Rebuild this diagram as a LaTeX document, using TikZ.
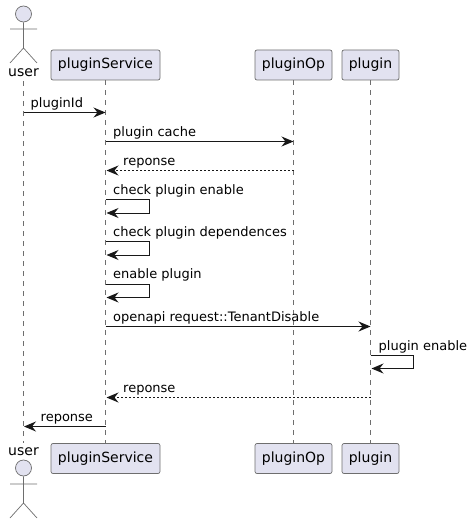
\documentclass[tikz,border=0pt]{standalone}
\usepackage{fontspec}
\setmainfont{DejaVu Sans}
\usetikzlibrary{arrows.meta}
\definecolor{boxfill}{HTML}{E2E2F0}
\definecolor{ink}{HTML}{181818}
\definecolor{thin}{HTML}{6E6E6E}
\tikzset{
  part/.style={rectangle,rounded corners=2pt,draw=thin,fill=boxfill,line width=.7pt,minimum height=30pt,inner sep=0pt,font=\fontsize{14}{16}\selectfont,text=black},
  who/.style={font=\fontsize{14}{16}\selectfont,inner sep=0pt,text=black},
  life/.style={draw=thin,line width=.6pt,dash pattern=on 5pt off 5pt},
  limb/.style={draw=thin,line width=.7pt},
  head/.style={circle,draw=thin,fill=boxfill,line width=.7pt,minimum size=16pt,inner sep=0pt},
  msg/.style={-{Stealth[length=12pt,width=10pt,inset=4pt]},draw=ink,line width=1pt},
  ret/.style={msg,dash pattern=on 2pt off 2pt},
  lb/.style={font=\fontsize{13}{15}\selectfont,anchor=base west,inner sep=0pt,text=black},
}
\begin{document}
\begin{tikzpicture}[x=1pt,y=-1pt]
\useasboundingbox (0,0) rectangle (472,524);
% top row
\node[head] (uheadT) at (23.5,14) {};
\coordinate (uhipT) at (23.5,48);
\coordinate (uarmlT) at (10,29);
\coordinate (uarmrT) at (37,29);
\coordinate (ulegbT) at (10,63);
\coordinate (ulegcT) at (37,63);
\draw[limb] (uheadT)--(uhipT) (uarmlT)--(uarmrT) (ulegbT)--(uhipT)--(ulegcT);
\node[who] (userT) at (23.5,73) {user};
\node[part,minimum width=109pt] (svcT) at (105.5,65) {pluginService};
\node[part,minimum width=77pt] (opT) at (293.5,65) {pluginOp};
\node[part,minimum width=57pt] (plgT) at (370.5,65) {plugin};
% bottom row
\node[head] (uheadB) at (23.5,468) {};
\coordinate (uhipB) at (23.5,503);
\coordinate (uarmlB) at (10,484);
\coordinate (uarmrB) at (37,484);
\coordinate (ulegbB) at (10,518);
\coordinate (ulegcB) at (37,518);
\draw[limb] (uheadB)--(uhipB) (uarmlB)--(uarmrB) (ulegbB)--(uhipB)--(ulegcB);
\node[who] (userB) at (23.5,452) {user};
\node[part,minimum width=109pt] (svcB) at (105.5,458.5) {pluginService};
\node[part,minimum width=77pt] (opB) at (293.5,458.5) {pluginOp};
\node[part,minimum width=57pt] (plgB) at (370.5,458.5) {plugin};
% lifelines
\coordinate (utop) at (23.5,81);
\coordinate (ubot) at (23.5,443);
\draw[life] (utop)--(ubot);
\draw[life] (svcT.south)--(svcB.north);
\draw[life] (opT.south)--(opB.north);
\draw[life] (plgT.south)--(plgB.north);
% messages
\coordinate (m1a) at (23.5,112.5); \coordinate (m1b) at (105.5,112.5);
\draw[msg] (m1a)--(m1b);
\node[lb] (t1) at (30.5,107) {pluginId};
\coordinate (m2a) at (105.5,141.5); \coordinate (m2b) at (293.5,141.5);
\draw[msg] (m2a)--(m2b);
\node[lb] (t2) at (113,136) {plugin cache};
\coordinate (m3a) at (293.5,170.5); \coordinate (m3b) at (106.5,170.5);
\draw[ret] (m3a)--(m3b);
\node[lb] (t3) at (123,165) {reponse};
\coordinate (s1a) at (105.5,199.5); \coordinate (s1b) at (149,199.5);
\coordinate (s1c) at (149,213); \coordinate (s1d) at (106.5,213);
\draw[msg] (s1a)--(s1b)--(s1c)--(s1d);
\node[lb] (t4) at (113,194) {check plugin enable};
\coordinate (s2a) at (105.5,241.5); \coordinate (s2b) at (149,241.5);
\coordinate (s2c) at (149,255); \coordinate (s2d) at (106.5,255);
\draw[msg] (s2a)--(s2b)--(s2c)--(s2d);
\node[lb] (t5) at (113,236) {check plugin dependences};
\coordinate (s3a) at (105.5,284); \coordinate (s3b) at (149,284);
\coordinate (s3c) at (149,297.5); \coordinate (s3d) at (106.5,297.5);
\draw[msg] (s3a)--(s3b)--(s3c)--(s3d);
\node[lb] (t6) at (113,278.5) {enable plugin};
\coordinate (m4a) at (105.5,326.5); \coordinate (m4b) at (370.5,326.5);
\draw[msg] (m4a)--(m4b);
\node[lb] (t7) at (113,321) {openapi request::TenantDisable};
\coordinate (s4a) at (370.5,355); \coordinate (s4b) at (413,355);
\coordinate (s4c) at (413,368.5); \coordinate (s4d) at (371.5,368.5);
\draw[msg] (s4a)--(s4b)--(s4c)--(s4d);
\node[lb] (t8) at (378.5,350) {plugin enable};
\coordinate (m5a) at (370.5,397.5); \coordinate (m5b) at (106.5,397.5);
\draw[ret] (m5a)--(m5b);
\node[lb] (t9) at (123,392) {reponse};
\coordinate (m6a) at (105.5,426.5); \coordinate (m6b) at (24,426.5);
\draw[msg] (m6a)--(m6b);
\node[lb] (t10) at (40.5,421) {reponse};
\end{tikzpicture}
\end{document}
